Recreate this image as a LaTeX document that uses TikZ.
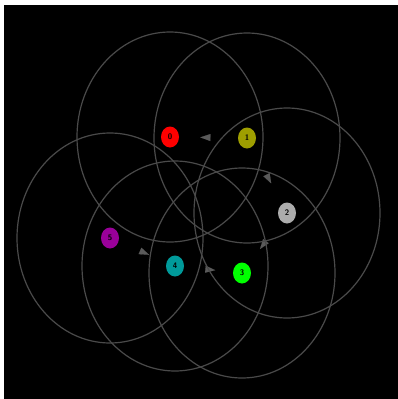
\documentclass[tikz,border=0pt]{standalone}
\usetikzlibrary{arrows.meta,shapes.geometric,decorations.markings}
\definecolor{ringgray}{HTML}{4A4A4A}
\definecolor{tipgray}{HTML}{5A5A5A}
\definecolor{olivec}{HTML}{9E9E00}
\definecolor{tealc}{HTML}{009A9A}
\definecolor{purplec}{HTML}{990099}
\begin{document}
\begin{tikzpicture}[x=1pt, y=-1pt,
    vert/.style={ellipse, minimum width=18pt, minimum height=21pt, inner sep=0pt,
        font=\fontsize{8}{8}\selectfont\sffamily\bfseries},
    ring/.style={draw=ringgray, line width=1.2pt},
    flow/.style={black, line width=0.1pt, decoration={markings,
        mark=at position 0.64 with {\arrow[tipgray]{Triangle[length=10pt,width=7pt]}}},
        postaction={decorate}}]
    \useasboundingbox (0,0) rectangle (398,399);
    \fill[white] (0,0) rectangle (398,399);
    \fill[black] (4,5) rectangle (398,399);
    % vertices
    \node[vert, fill=red] (n0) at (170,137) {0};
    \node[vert, fill=olivec] (n1) at (247,138) {1};
    \node[vert, fill=gray!65] (n2) at (287,213) {2};
    \node[vert, fill=green] (n3) at (242,273) {3};
    \node[vert, fill=tealc] (n4) at (175,266) {4};
    \node[vert, fill=purplec] (n5) at (110,238) {5};
    % edges
    \draw[flow] (n1) -- (n0);
    \draw[flow] (n1) -- (n2);
    \draw[flow] (n2) -- (n3);
    \draw[flow] (n4) -- (n3);
    \draw[flow] (n5) -- (n4);
    % rings
    \foreach \v in {n0,n1,n2,n3,n4,n5}
        \draw[ring] (\v) ellipse [x radius=93, y radius=105];
\end{tikzpicture}
\end{document}
